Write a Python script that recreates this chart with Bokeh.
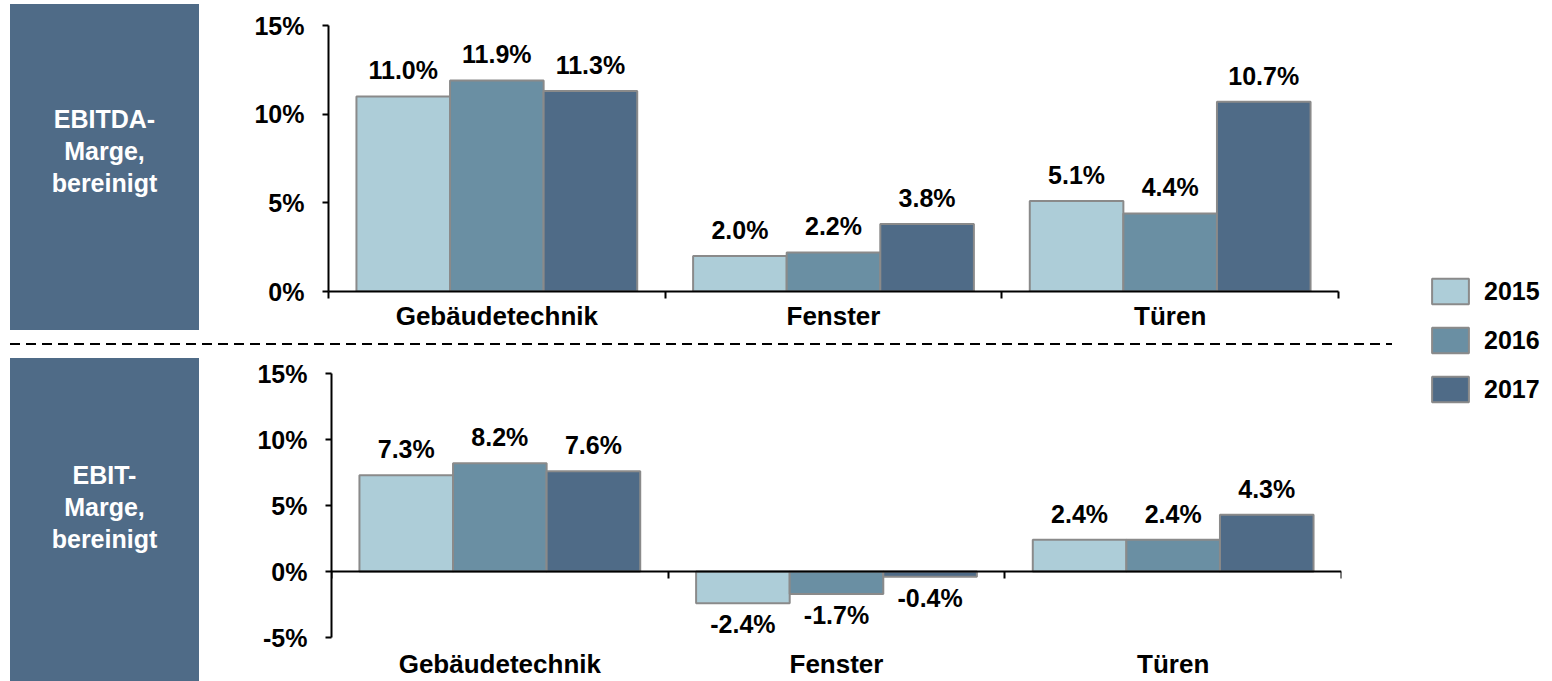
import numpy as np
from bokeh.plotting import figure
from bokeh.models import (Range1d, FixedTicker, LinearAxis, PrintfTickFormatter,
                          ColumnDataSource, LabelSet, Legend, LegendItem, Div)
from bokeh.layouts import row, column
from bokeh.core.properties import value
from bokeh.embed import file_html
from bokeh.resources import INLINE

# ---------------- data ----------------
categories = ["Gebäudetechnik", "Fenster", "Türen"]
years = ["2015", "2016", "2017"]

ebitda_2015 = [11.0, 2.0, 5.1]
ebitda_2016 = [11.9, 2.2, 4.4]
ebitda_2017 = [11.3, 3.8, 10.7]

ebit_2015 = [7.3, -2.4, 2.4]
ebit_2016 = [8.2, -1.7, 2.4]
ebit_2017 = [7.6, -0.4, 4.3]

top_ticks = [0, 5, 10, 15]
bottom_ticks = [-5, 0, 5, 10, 15]

top_title = "EBITDA-<br>Marge,<br>bereinigt"
bottom_title = "EBIT-<br>Marge,<br>bereinigt"

# ---------------- style ----------------
colors = ["#adcdd8", "#6a8fa3", "#4f6b87"]
BOX = "#4f6b87"
EDGE = "#8a8a8a"
FONT = "Liberation Sans"
FS = "25px"
BAR_W = 0.278
offsets = [-BAR_W, 0.0, BAR_W]


def chart(series, yr, yticks, width, height, mbl, mbr, mbt, mbb, zero_inside, standoff):
    n = len(categories)
    p = figure(width=width, height=height,
               x_range=Range1d(-0.5, n - 0.5), y_range=Range1d(*yr),
               output_backend="svg", toolbar_location=None,
               min_border_left=mbl, min_border_right=mbr,
               min_border_top=mbt, min_border_bottom=mbb)
    p.grid.visible = False
    p.outline_line_color = None
    idx = np.arange(n)
    for k, (vals, col) in enumerate(zip(series, colors)):
        src = ColumnDataSource(dict(
            x=idx + offsets[k], top=vals,
            label=[f"{v:.1f}%" for v in vals],
            off=[17 if v >= 0 else -30 for v in vals]))
        p.vbar(x="x", top="top", bottom=0, width=BAR_W, source=src,
               fill_color=col, line_color=EDGE, line_width=2)
        p.add_layout(LabelSet(x="x", y="top", text="label", y_offset="off",
                              source=src, text_align="center",
                              text_baseline="alphabetic", text_font=value(FONT),
                              text_font_size=value(FS), text_font_style="bold",
                              text_color="black"))
    # y axis
    ya = p.yaxis[0]
    ya.ticker = FixedTicker(ticks=yticks)
    ya.formatter = PrintfTickFormatter(format="%d%%")
    ya.major_tick_out = 6
    ya.major_tick_in = 0
    ya.minor_tick_out = 0
    ya.minor_tick_in = 0
    ya.axis_line_width = 2
    ya.major_tick_line_width = 2
    ya.axis_line_color = "black"
    ya.major_tick_line_color = "black"
    ya.major_label_standoff = 18
    ya.major_label_text_font = FONT
    ya.major_label_text_font_size = FS
    ya.major_label_text_font_style = "bold"
    ya.major_label_text_color = "black"

    bounds = [i - 0.5 for i in range(n + 1)]
    xa = p.xaxis[0]
    xa.ticker = FixedTicker(ticks=list(range(n)), minor_ticks=[] if zero_inside else bounds)
    xa.major_label_overrides = {i: c for i, c in enumerate(categories)}
    xa.major_tick_out = 0
    xa.major_tick_in = 0
    xa.major_tick_line_color = None
    xa.minor_tick_out = 7
    xa.minor_tick_in = 0
    xa.minor_tick_line_width = 2
    xa.minor_tick_line_color = "black"
    xa.axis_line_width = 2
    xa.axis_line_color = None if zero_inside else "black"
    xa.major_label_standoff = standoff
    xa.major_label_text_font = FONT
    xa.major_label_text_font_size = "26px"
    xa.major_label_text_font_style = "bold"
    xa.major_label_text_color = "black"
    if zero_inside:
        xa.major_label_text_line_height = 1.0

    if zero_inside:
        za = LinearAxis(fixed_location=0,
                        ticker=FixedTicker(ticks=[], minor_ticks=bounds),
                        major_label_text_font_size="0px",
                        major_tick_line_color=None,
                        axis_line_width=2, axis_line_color="black",
                        minor_tick_out=7, minor_tick_in=0,
                        minor_tick_line_width=2, minor_tick_line_color="black")
        p.add_layout(za, "below")
    return p


def box(html, height, top, inner_h, pad):
    return Div(text=(f'<div style="position:relative;top:{top}px;margin-left:10px;width:189px;'
                     f'height:{inner_h}px;background:{BOX};color:#ffffff;'
                     f"font-family:'{FONT}';font-weight:bold;font-size:{FS};"
                     f'line-height:32px;text-align:center;box-sizing:border-box;'
                     f'padding-top:{pad}px">{html}</div>'),
               width=199, height=height, margin=0)


p_top = chart([ebitda_2015, ebitda_2016, ebitda_2017], (0, 15), top_ticks,
              1201, 338, 129, 62, 25, 47, False, 2)
p_bot = chart([ebit_2015, ebit_2016, ebit_2017], (-5, 15), bottom_ticks,
              1201, 329, 132, 59, 21, 43, True, 11)

box_top = box(top_title, 338, 4, 326, 99)
box_bot = box(bottom_title, 329, 6, 323, 101)

sep = Div(text="", width=1392, height=14, margin=0,
          styles={"background-image": "linear-gradient(to right,#000 0,#000 10px,transparent 10px)",
                  "background-size": "16px 2px",
                  "background-repeat": "repeat-x",
                  "background-position": "10px 5px",
                  "background-origin": "padding-box",
                  "background-clip": "content-box",
                  "padding-left": "10px",
                  "box-sizing": "border-box"})

# legend figure
lf = figure(width=150, height=681, x_range=Range1d(0, 1), y_range=Range1d(0, 1),
            output_backend="svg", toolbar_location=None, min_border=0,
            x_axis_location=None, y_axis_location=None)
lf.grid.visible = False
lf.outline_line_color = None
items = []
for y, c in zip(years, colors):
    r = lf.vbar(x=[0], top=[0], width=0.5, fill_color=c, line_color=EDGE,
                line_width=2, visible=False)
    items.append(LegendItem(label=y, renderers=[r]))
legend = Legend(items=items, location=(27, 276), glyph_width=46, glyph_height=32,
                spacing=17, label_standoff=11, padding=0, margin=0,
                border_line_color=None, background_fill_alpha=0,
                inactive_fill_alpha=0,
                label_text_font=FONT, label_text_font_size=FS,
                label_text_font_style="bold", label_text_color="black")
lf.add_layout(legend)

left = column(row(box_top, p_top, spacing=0), sep, row(box_bot, p_bot, spacing=0), spacing=0)
page = row(left, lf, spacing=0)

open("out.html", "w").write(file_html(page, INLINE))
